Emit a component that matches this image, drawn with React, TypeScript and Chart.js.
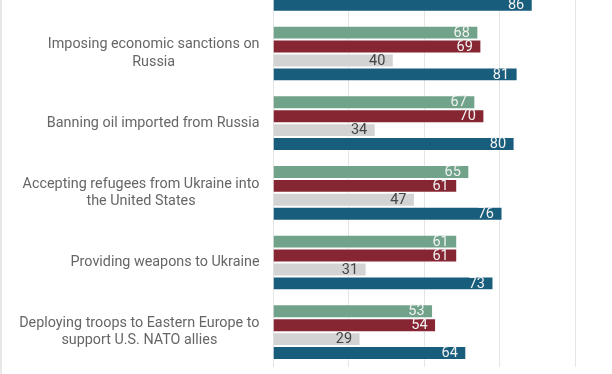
import React, { useEffect, useRef } from 'react';
import { Chart, registerables } from 'chart.js';

Chart.register(...registerables);

// Top group is cut off by the crop of the reference: only its last bar (86) is visible.
const categories: string[][] = [
  [''],
  ['Imposing economic sanctions on', 'Russia'],
  ['Banning oil imported from Russia'],
  ['Accepting refugees from Ukraine into', 'the United States'],
  ['Providing weapons to Ukraine'],
  ['Deploying troops to Eastern Europe to', 'support U.S. NATO allies'],
];

const seriesNames = ['Series 1', 'Series 2', 'Series 3', 'Series 4'];
const series1 = [null, 68, 67, 65, 61, 53];
const series2 = [null, 69, 70, 61, 61, 54];
const series3 = [null, 40, 34, 47, 31, 29];
const series4 = [86, 81, 80, 76, 73, 64];

const xTicks = [0, 25, 50, 75, 100];

const barColors = ['#70a389', '#862633', '#d3d3d3', '#195d7c'];
const valueColors = ['#f2f2f2', '#f2f2f2', '#444444', '#f2f2f2'];

const categoryLabelPlugin = {
  id: 'categoryLabels',
  afterDraw(chart: any) {
    const ctx = chart.ctx;
    const yScale = chart.scales.y;
    ctx.save();
    ctx.font = '14.35px Roboto';
    ctx.fillStyle = '#666666';
    ctx.textAlign = 'center';
    ctx.textBaseline = 'middle';
    const right = chart.chartArea.left - 13.5;
    const lh = 17.3;
    categories.forEach((lines, i) => {
      const cy = yScale.getPixelForValue(i);
      const w = Math.max(...lines.map((l) => ctx.measureText(l).width));
      const cx = right - w / 2;
      lines.forEach((l, j) => {
        ctx.fillText(l, cx, cy + (j - (lines.length - 1) / 2) * lh);
      });
    });
    ctx.restore();
  },
};

const valueLabelPlugin = {
  id: 'valueLabels',
  afterDatasetsDraw(chart: any) {
    const ctx = chart.ctx;
    ctx.save();
    ctx.font = '14.5px Roboto';
    ctx.textAlign = 'right';
    ctx.textBaseline = 'middle';
    chart.data.datasets.forEach((ds: any, di: number) => {
      const meta = chart.getDatasetMeta(di);
      meta.data.forEach((bar: any, i: number) => {
        const v = ds.data[i];
        if (v === null || v === undefined) return;
        ctx.fillStyle = valueColors[di];
        ctx.fillText(String(v), bar.x - 8.5, bar.y + 0.5);
      });
    });
    ctx.restore();
  },
};

export default function App() {
  const canvasRef = useRef<HTMLCanvasElement | null>(null);

  useEffect(() => {
    const canvas = canvasRef.current;
    if (!canvas) return;
    const data = [series1, series2, series3, series4];
    const chart = new Chart(canvas, {
      type: 'bar',
      data: {
        labels: categories.map((c) => c.join(' ')),
        datasets: data.map((d, i) => ({
          label: seriesNames[i],
          data: d as any,
          backgroundColor: barColors[i],
          borderColor: 'rgba(255,255,255,0.35)',
          borderWidth: 1,
          barPercentage: 1,
          categoryPercentage: 0.8,
        })),
      },
      options: {
        indexAxis: 'y',
        responsive: true,
        maintainAspectRatio: false,
        animation: false,
        layout: { padding: { top: 0, right: 37, bottom: 7, left: 0 } },
        plugins: {
          legend: { display: false },
          tooltip: { enabled: false },
        },
        scales: {
          x: {
            min: 0,
            max: 100,
            afterBuildTicks: (s: any) => {
              s.ticks = xTicks.map((v) => ({ value: v }));
            },
            ticks: { display: false },
            grid: { color: '#e4e4e4', drawTicks: false, lineWidth: 1 },
            border: { display: false },
            afterFit: (s: any) => {
              s.height = 0;
            },
          },
          y: {
            ticks: { display: false },
            grid: { display: false },
            border: { display: false },
            afterFit: (s: any) => {
              s.width = 273;
            },
          },
        },
      },
      plugins: [categoryLabelPlugin, valueLabelPlugin],
    });
    return () => chart.destroy();
  }, []);

  return (
    <div
      style={{
        position: 'fixed',
        top: 0,
        left: 0,
        width: 612,
        height: 374,
        overflow: 'hidden',
        background: '#ffffff',
      }}
    >
      <div style={{ position: 'absolute', left: 0, top: -51, width: 612, height: 425 }}>
        <canvas ref={canvasRef} />
      </div>
      <div
        style={{ position: 'absolute', left: 0, top: 0, width: 2, height: 374, background: '#e8e8e8' }}
      />
    </div>
  );
}
